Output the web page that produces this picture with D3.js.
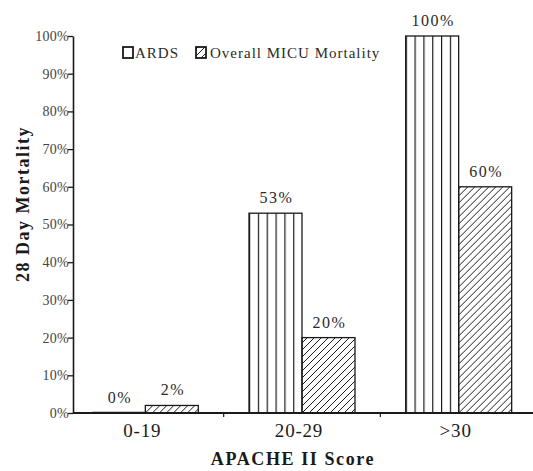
<!DOCTYPE html>
<html>
<head>
<meta charset="utf-8">
<script src="https://cdn.jsdelivr.net/npm/d3@7"></script>
<style>
  html, body { margin: 0; padding: 0; background: #fff; }
  svg text { font-family: "Liberation Serif", "Times New Roman", "DejaVu Serif", serif !important; }
</style>
</head>
<body>
<svg id="chart" width="533" height="471"></svg>
<script>
// ---- data ----
const categories = ["0-19", "20-29", ">30"];
const seriesNames = ["ARDS", "Overall MICU Mortality"];
const ardsValues = [0, 53, 100];
const overallValues = [2, 20, 60];
const yTickValues = [0, 10, 20, 30, 40, 50, 60, 70, 80, 90, 100];
const yTickLabels = ["0%", "10%", "20%", "30%", "40%", "50%", "60%", "70%", "80%", "90%", "100%"];
const xTitle = "APACHE II Score";
const yTitle = "28 Day Mortality";

// ---- setup ----
const svg = d3.select("#chart");
const ink = "#1a1a1a";

const defs = svg.append("defs");
// vertical lines pattern (ARDS)
const pA = defs.append("pattern")
  .attr("id", "vlines")
  .attr("patternUnits", "objectBoundingBox")
  .attr("width", 1 / 6).attr("height", 1);
pA.append("line").attr("x1", 0.6).attr("x2", 0.6).attr("y1", 0).attr("y2", 2000)
  .attr("stroke", ink).attr("stroke-width", 1.2);
// diagonal hatch pattern (Overall)
const pB = defs.append("pattern")
  .attr("id", "hatch")
  .attr("patternUnits", "userSpaceOnUse")
  .attr("width", 7).attr("height", 7);
pB.append("path").attr("d", "M-1,1 l2,-2 M0,7 l7,-7 M6,8 l2,-2")
  .attr("stroke", ink).attr("stroke-width", 1).attr("fill", "none");

const axisLeftX = 73;
const baseY = 413;

const y = d3.scaleLinear().domain([0, 100]).range([baseY, 36]);
const x0 = d3.scaleBand().domain(categories).range([67, 537]).padding(0);
const x1 = d3.scaleBand().domain(seriesNames).range([-53, 53]).padding(0);

const rows = categories.map((c, i) => ({ cat: c, vals: [
  { s: seriesNames[0], v: ardsValues[i] },
  { s: seriesNames[1], v: overallValues[i] }
]}));

// ---- bars ----
const groups = svg.append("g").selectAll("g").data(rows).join("g")
  .attr("transform", d => `translate(${x0(d.cat) + x0.bandwidth() / 2},0)`);

groups.selectAll("rect").data(d => d.vals).join("rect")
  .attr("x", d => x1(d.s))
  .attr("y", d => y(d.v))
  .attr("width", x1.bandwidth())
  .attr("height", d => baseY - y(d.v))
  .attr("fill", d => d.s === seriesNames[0] ? "url(#vlines)" : "url(#hatch)")
  .attr("stroke", ink).attr("stroke-width", 1.3);

// zero-height bars drawn as a line
groups.selectAll("line.zero").data(d => d.vals.filter(v => v.v === 0)).join("line")
  .attr("class", "zero")
  .attr("x1", d => x1(d.s)).attr("x2", d => x1(d.s) + x1.bandwidth())
  .attr("y1", baseY - 0.5).attr("y2", baseY - 0.5)
  .attr("stroke", ink).attr("stroke-width", 1.5);

// value labels
groups.selectAll("text.val").data(d => d.vals).join("text")
  .attr("class", "val")
  .attr("x", d => x1(d.s) + x1.bandwidth() / 2 + 1)
  .attr("y", d => y(d.v) - 10)
  .attr("text-anchor", "middle")
  .attr("font-size", 16).attr("letter-spacing", 1.5)
  .attr("fill", "#2a2a2a")
  .text(d => d.v + "%");

// ---- y axis ----
const yAxis = d3.axisLeft(y).tickValues(yTickValues)
  .tickFormat((d, i) => yTickLabels[i]).tickSize(5).tickSizeOuter(0);
const gy = svg.append("g").attr("transform", `translate(${axisLeftX},0)`).call(yAxis);
gy.select(".domain").attr("stroke", ink).attr("stroke-width", 1.6);
gy.selectAll(".tick line").attr("stroke", ink).attr("stroke-width", 1.3);
gy.selectAll(".tick text").attr("font-size", 14).attr("letter-spacing", 0.3)
  .attr("fill", "#444").attr("x", -4).attr("dy", "0.32em");

// ---- x axis ----
const xAxis = d3.axisBottom(x0).tickSize(0).tickSizeOuter(0);
const gx = svg.append("g").attr("transform", `translate(0,${baseY})`).call(xAxis);
gx.select(".domain").remove();
gx.selectAll(".tick text").attr("font-size", 19).attr("letter-spacing", 0.8)
  .attr("fill", ink).attr("dy", 0).attr("y", 24)
  .attr("dx", -3);
svg.append("line")
  .attr("x1", axisLeftX).attr("x2", 533).attr("y1", baseY).attr("y2", baseY)
  .attr("stroke", ink).attr("stroke-width", 1.8);
// separator ticks between categories
svg.append("g").selectAll("line").data(categories.slice(1)).join("line")
  .attr("x1", d => x0(d)).attr("x2", d => x0(d))
  .attr("y1", baseY).attr("y2", baseY + 4)
  .attr("stroke", ink).attr("stroke-width", 1.2);

// ---- titles ----
svg.append("text")
  .attr("x", 293).attr("y", 465)
  .attr("text-anchor", "middle").attr("font-weight", "bold")
  .attr("font-size", 18).attr("letter-spacing", 1.6).attr("fill", ink)
  .text(xTitle);
svg.append("text")
  .attr("transform", "translate(29,204) rotate(-90)")
  .attr("text-anchor", "middle").attr("font-weight", "bold")
  .attr("font-size", 18).attr("letter-spacing", 1.5).attr("fill", ink)
  .text(yTitle);

// ---- legend ----
const legend = svg.append("g");
const legendItems = [
  { name: seriesNames[0], bx: 123, tx: 135, fill: "#fff" },
  { name: seriesNames[1], bx: 196, tx: 210, fill: "url(#hatch)" }
];
legendItems.forEach(it => {
  legend.append("rect").attr("x", it.bx).attr("y", 47).attr("width", 10).attr("height", 11)
    .attr("fill", it.fill).attr("stroke", ink).attr("stroke-width", 1.8);
  legend.append("text").attr("x", it.tx).attr("y", 58)
    .attr("font-size", 15).attr("letter-spacing", 1).attr("fill", "#2a2a2a")
    .text(it.name);
});
</script>
</body>
</html>
